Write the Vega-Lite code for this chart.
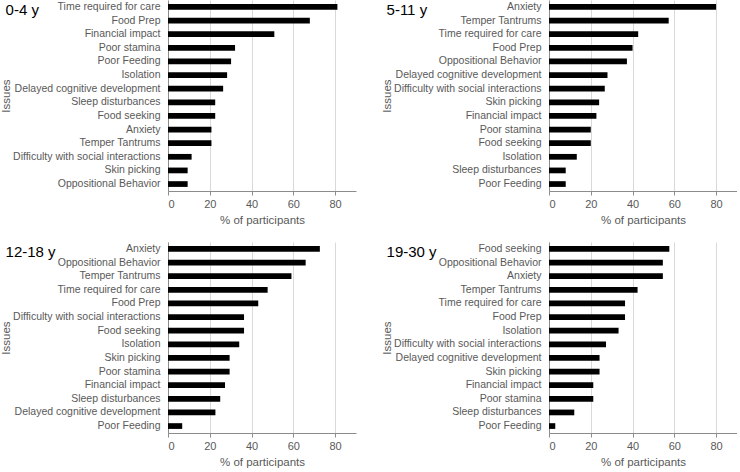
{
  "$schema": "https://vega.github.io/schema/vega-lite/v6.json",
  "padding": {"left": 0, "top": 0, "right": 0, "bottom": 0},
  "background": "white",
  "data": {"values": [
    {"age": "0-4 y", "issue": "Time required for care", "pct": 81.1},
    {"age": "0-4 y", "issue": "Food Prep", "pct": 67.9},
    {"age": "0-4 y", "issue": "Financial impact", "pct": 50.9},
    {"age": "0-4 y", "issue": "Poor stamina", "pct": 32.1},
    {"age": "0-4 y", "issue": "Poor Feeding", "pct": 30.2},
    {"age": "0-4 y", "issue": "Isolation", "pct": 28.3},
    {"age": "0-4 y", "issue": "Delayed cognitive development", "pct": 26.4},
    {"age": "0-4 y", "issue": "Sleep disturbances", "pct": 22.6},
    {"age": "0-4 y", "issue": "Food seeking", "pct": 22.6},
    {"age": "0-4 y", "issue": "Anxiety", "pct": 20.8},
    {"age": "0-4 y", "issue": "Temper Tantrums", "pct": 20.8},
    {"age": "0-4 y", "issue": "Difficulty with social interactions", "pct": 11.3},
    {"age": "0-4 y", "issue": "Skin picking", "pct": 9.4},
    {"age": "0-4 y", "issue": "Oppositional Behavior", "pct": 9.4},
    {"age": "5-11 y", "issue": "Anxiety", "pct": 80.0},
    {"age": "5-11 y", "issue": "Temper Tantrums", "pct": 57.3},
    {"age": "5-11 y", "issue": "Time required for care", "pct": 42.7},
    {"age": "5-11 y", "issue": "Food Prep", "pct": 40.0},
    {"age": "5-11 y", "issue": "Oppositional Behavior", "pct": 37.3},
    {"age": "5-11 y", "issue": "Delayed cognitive development", "pct": 28.0},
    {"age": "5-11 y", "issue": "Difficulty with social interactions", "pct": 26.7},
    {"age": "5-11 y", "issue": "Skin picking", "pct": 24.0},
    {"age": "5-11 y", "issue": "Financial impact", "pct": 22.7},
    {"age": "5-11 y", "issue": "Poor stamina", "pct": 20.0},
    {"age": "5-11 y", "issue": "Food seeking", "pct": 20.0},
    {"age": "5-11 y", "issue": "Isolation", "pct": 13.3},
    {"age": "5-11 y", "issue": "Sleep disturbances", "pct": 8.0},
    {"age": "5-11 y", "issue": "Poor Feeding", "pct": 8.0},
    {"age": "12-18 y", "issue": "Anxiety", "pct": 72.7},
    {"age": "12-18 y", "issue": "Oppositional Behavior", "pct": 65.9},
    {"age": "12-18 y", "issue": "Temper Tantrums", "pct": 59.1},
    {"age": "12-18 y", "issue": "Time required for care", "pct": 47.7},
    {"age": "12-18 y", "issue": "Food Prep", "pct": 43.2},
    {"age": "12-18 y", "issue": "Difficulty with social interactions", "pct": 36.4},
    {"age": "12-18 y", "issue": "Food seeking", "pct": 36.4},
    {"age": "12-18 y", "issue": "Isolation", "pct": 34.1},
    {"age": "12-18 y", "issue": "Skin picking", "pct": 29.5},
    {"age": "12-18 y", "issue": "Poor stamina", "pct": 29.5},
    {"age": "12-18 y", "issue": "Financial impact", "pct": 27.3},
    {"age": "12-18 y", "issue": "Sleep disturbances", "pct": 25.0},
    {"age": "12-18 y", "issue": "Delayed cognitive development", "pct": 22.7},
    {"age": "12-18 y", "issue": "Poor Feeding", "pct": 6.8},
    {"age": "19-30 y", "issue": "Food seeking", "pct": 57.6},
    {"age": "19-30 y", "issue": "Oppositional Behavior", "pct": 54.5},
    {"age": "19-30 y", "issue": "Anxiety", "pct": 54.5},
    {"age": "19-30 y", "issue": "Temper Tantrums", "pct": 42.4},
    {"age": "19-30 y", "issue": "Time required for care", "pct": 36.4},
    {"age": "19-30 y", "issue": "Food Prep", "pct": 36.4},
    {"age": "19-30 y", "issue": "Isolation", "pct": 33.3},
    {"age": "19-30 y", "issue": "Difficulty with social interactions", "pct": 27.3},
    {"age": "19-30 y", "issue": "Delayed cognitive development", "pct": 24.2},
    {"age": "19-30 y", "issue": "Skin picking", "pct": 24.2},
    {"age": "19-30 y", "issue": "Financial impact", "pct": 21.2},
    {"age": "19-30 y", "issue": "Poor stamina", "pct": 21.2},
    {"age": "19-30 y", "issue": "Sleep disturbances", "pct": 12.1},
    {"age": "19-30 y", "issue": "Poor Feeding", "pct": 3.0}
  ]},
  "config": {
    "font": "Liberation Sans",
    "view": {"stroke": null},
    "bar": {"color": "black"},
    "axis": {
      "domainColor": "#8c8c8c",
      "tickColor": "#8c8c8c",
      "labelColor": "#595959",
      "titleColor": "#595959",
      "labelFontSize": 10.5,
      "titleFontSize": 11.5,
      "titleFontWeight": "normal",
      "gridColor": "#d9d9d9"
    },
    "axisX": {"grid": true, "tickSize": 4, "labelPadding": 3, "titlePadding": 5, "labelFontSize": 11, "values": [0, 20, 40, 60, 80]},
    "axisY": {"grid": false, "ticks": false, "labelPadding": 8, "titlePadding": 1},
    "title": {"anchor": "start", "fontSize": 15, "fontWeight": "normal", "color": "black", "offset": -18, "dx": 5}
  },
  "columns": 2,
  "spacing": {"column": 25, "row": 16},
  "concat": [
    {
      "title": "0-4 y",
      "width": 188, "height": 191,
      "transform": [{"filter": "datum.age === '0-4 y'"}],
      "mark": "bar",
      "encoding": {
        "y": {"field": "issue", "type": "nominal", "title": "Issues",
          "sort": ["Time required for care", "Food Prep", "Financial impact", "Poor stamina", "Poor Feeding", "Isolation", "Delayed cognitive development", "Sleep disturbances", "Food seeking", "Anxiety", "Temper Tantrums", "Difficulty with social interactions", "Skin picking", "Oppositional Behavior"],
          "scale": {"paddingInner": 0.58, "paddingOuter": 0.3}},
        "x": {"field": "pct", "type": "quantitative", "title": "% of participants", "scale": {"domain": [0, 90]}}
      }
    },
    {
      "title": "5-11 y",
      "width": 188, "height": 191,
      "transform": [{"filter": "datum.age === '5-11 y'"}],
      "mark": "bar",
      "encoding": {
        "y": {"field": "issue", "type": "nominal", "title": "Issues",
          "sort": ["Anxiety", "Temper Tantrums", "Time required for care", "Food Prep", "Oppositional Behavior", "Delayed cognitive development", "Difficulty with social interactions", "Skin picking", "Financial impact", "Poor stamina", "Food seeking", "Isolation", "Sleep disturbances", "Poor Feeding"],
          "scale": {"paddingInner": 0.58, "paddingOuter": 0.3}},
        "x": {"field": "pct", "type": "quantitative", "title": "% of participants", "scale": {"domain": [0, 90]}}
      }
    },
    {
      "title": "12-18 y",
      "width": 188, "height": 191,
      "transform": [{"filter": "datum.age === '12-18 y'"}],
      "mark": "bar",
      "encoding": {
        "y": {"field": "issue", "type": "nominal", "title": "Issues",
          "sort": ["Anxiety", "Oppositional Behavior", "Temper Tantrums", "Time required for care", "Food Prep", "Difficulty with social interactions", "Food seeking", "Isolation", "Skin picking", "Poor stamina", "Financial impact", "Sleep disturbances", "Delayed cognitive development", "Poor Feeding"],
          "scale": {"paddingInner": 0.58, "paddingOuter": 0.3}},
        "x": {"field": "pct", "type": "quantitative", "title": "% of participants", "scale": {"domain": [0, 90]}}
      }
    },
    {
      "title": "19-30 y",
      "width": 188, "height": 191,
      "transform": [{"filter": "datum.age === '19-30 y'"}],
      "mark": "bar",
      "encoding": {
        "y": {"field": "issue", "type": "nominal", "title": "Issues",
          "sort": ["Food seeking", "Oppositional Behavior", "Anxiety", "Temper Tantrums", "Time required for care", "Food Prep", "Isolation", "Difficulty with social interactions", "Delayed cognitive development", "Skin picking", "Financial impact", "Poor stamina", "Sleep disturbances", "Poor Feeding"],
          "scale": {"paddingInner": 0.58, "paddingOuter": 0.3}},
        "x": {"field": "pct", "type": "quantitative", "title": "% of participants", "scale": {"domain": [0, 90]}}
      }
    }
  ]
}
